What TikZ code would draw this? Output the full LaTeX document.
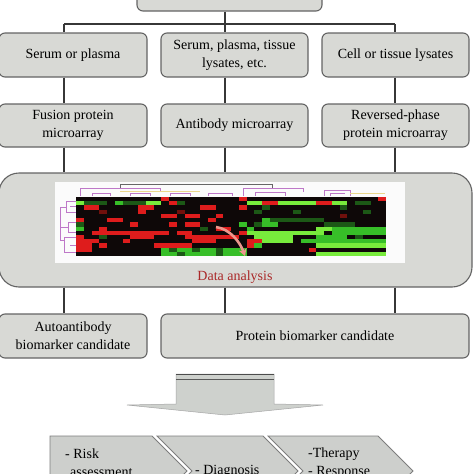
\documentclass[tikz,border=0pt]{standalone}
\usepackage{fontspec}
\setmainfont{Liberation Serif}
\usetikzlibrary{arrows.meta}
\definecolor{boxfill}{RGB}{216,217,213}
\definecolor{boxdraw}{RGB}{100,100,100}
\definecolor{linec}{RGB}{55,55,55}
\definecolor{chevfill}{RGB}{205,207,204}
\definecolor{chevdraw}{RGB}{125,125,125}
\definecolor{arrfill}{RGB}{206,209,205}
\definecolor{dared}{RGB}{170,40,40}
\definecolor{hmK}{RGB}{14,8,8}
\definecolor{hmR}{RGB}{222,28,28}
\definecolor{hmr}{RGB}{112,16,12}
\definecolor{hmG}{RGB}{55,190,40}
\definecolor{hmg}{RGB}{28,88,22}
\definecolor{hmL}{RGB}{120,235,60}
\definecolor{dpurple}{RGB}{190,120,200}
\definecolor{dyellow}{RGB}{235,215,140}
\newcount\hmcol
\newcount\hmrowc
\newcommand\hmcell{\fill[fill=hm\hmc] ({76+7.75*\the\hmcol},{197+4.214*\the\hmrowc}) rectangle ++(7.9,4.35);\global\advance\hmcol by 1\relax}
\makeatletter
\newcommand\hmrow[1]{\global\hmcol=0\relax\@tfor\hmc:=#1\do{\hmcell}\global\advance\hmrowc by 1\relax}
\makeatother
\tikzset{
  box/.style={draw=boxdraw, fill=boxfill, line width=1.1pt, rounded corners=6pt,
    align=center, inner sep=2pt, font=\fontsize{14}{18}\selectfont},
  conn/.style={draw=linec, line width=1.2pt},
  chev/.style={draw=chevdraw, fill=chevfill, line width=0.8pt},
  chevtext/.style={anchor=west, align=left, inner sep=0pt, font=\fontsize{14}{18}\selectfont},
  dgp/.style={draw=dpurple, line width=0.6pt},
  dgy/.style={draw=dyellow, line width=0.6pt},
  dgk/.style={draw=gray!80!black, line width=0.8pt}
}
\begin{document}
\begin{tikzpicture}[x=1pt, y=-1pt]
\useasboundingbox (0,0) rectangle (474,474);
\fill[white] (0,0) rectangle (474,474);
\clip (0,0) rectangle (474,474);

% junction coordinates
\coordinate (h1) at (64,24);
\coordinate (h2) at (225,24);
\coordinate (h3) at (395,24);

% boxes
\node[box, minimum width=185pt, minimum height=46pt] (top) at (229.5,-12) {};
\node[box, minimum width=148pt, minimum height=44pt] (s1) at (73,55) {Serum or plasma};
\node[box, minimum width=147pt, minimum height=44pt] (s2) at (234.5,55) {Serum, plasma, tissue\\lysates, etc.};
\node[box, minimum width=147pt, minimum height=44pt] (s3) at (395.5,55) {Cell or tissue lysates};
\node[box, minimum width=148pt, minimum height=43pt] (m1) at (73,125.5) {Fusion protein\\microarray};
\node[box, minimum width=147pt, minimum height=43pt] (m2) at (234.5,125.5) {Antibody microarray};
\node[box, minimum width=147pt, minimum height=43pt] (m3) at (395.5,125.5) {Reversed-phase\\protein microarray};
\node[box, rounded corners=20pt, minimum width=473pt, minimum height=114pt] (data) at (235.5,230) {};
\node[box, minimum width=148pt, minimum height=44pt] (a1) at (73,336) {Autoantibody\\biomarker candidate};
\node[box, minimum width=308pt, minimum height=44pt] (p1) at (315,336) {Protein biomarker candidate};

% connectors
\draw[conn] (h2 |- top.south) -- (h2);
\draw[conn] (h1) -- (h3);
\draw[conn] (h1) -- (h1 |- s1.north);
\draw[conn] (h2) -- (h2 |- s2.north);
\draw[conn] (h3) -- (h3 |- s3.north);
\draw[conn] (h1 |- s1.south) -- (h1 |- m1.north);
\draw[conn] (h2 |- s2.south) -- (h2 |- m2.north);
\draw[conn] (h3 |- s3.south) -- (h3 |- m3.north);
\draw[conn] (h1 |- m1.south) -- (h1 |- data.north);
\draw[conn] (h2 |- m2.south) -- (h2 |- data.north);
\draw[conn] (h3 |- m3.south) -- (h3 |- data.north);
\draw[conn] (h1 |- data.south) -- (h1 |- a1.north);
\draw[conn] (h2 |- data.south) -- (h2 |- p1.north);
\draw[conn] (h3 |- data.south) -- (h3 |- p1.north);

% heatmap image
\fill[white!97!gray] (55,182) rectangle (405,263);
% top dendrogram
\draw[dgk] (120,189) -- (120,184) -- (272,184) -- (272,189);
\draw[dgp] (80,196) -- (80,188) -- (160,188) -- (160,191);
\draw[dgy] (120,191) -- (200,191);
\draw[dgp] (92,196) -- (92,193) -- (110,193) -- (110,196);
\draw[dgp] (130,196) -- (130,193) -- (150,193) -- (150,196);
\draw[dgp] (170,196) -- (170,193) -- (190,193) -- (190,196);
\draw[dgp] (208,196) -- (208,193) -- (232,193) -- (232,196);
\draw[dgp] (243,196) -- (243,188) -- (303,188) -- (303,192);
\draw[dgp] (255,196) -- (255,192) -- (285,192) -- (285,196);
\draw[dgp] (324,196) -- (324,190) -- (350,190) -- (350,196);
\draw[dgp] (330,196) -- (330,193) -- (345,193);
\draw[dgy] (350,193) -- (385,193);
% left dendrogram
\draw[dgp] (76,201) -- (66,201) -- (66,212) -- (76,212);
\draw[dgp] (76,206) -- (70,206);
\draw[dgp] (66,207) -- (60,207) -- (60,240) -- (64,240);
\draw[dgp] (76,222) -- (68,222) -- (68,232) -- (76,232);
\draw[dgp] (68,227) -- (60,227);
\draw[dgp] (76,237) -- (64,237) -- (64,252) -- (76,252);
\draw[dgp] (76,245) -- (70,245);
% cells
\hmrow{KKKKKKKKKKKRKKKKKKKKKRKKKKKKKKKKKKKKKKKR}
\hmrow{LgggKGgggLLKRgKKKKKKKKLLRRLLLLLRRLLKggKK}
\hmrow{KRRKKKKKRRKKKKKKRRKKKRKKgKKKKKKKKKgKKKKK}
\hmrow{KKKrKKKKRKKKKrKKKKKKKKKgKKKKgKKKKKKKKgKK}
\hmrow{KKKKKKKKKKKRRKRRKKRKKKKKKKKKKKKKKKrKKKKK}
\hmrow{RKKKRRKKKKKKKKKKKRKKKKKKGgggggggKKKKKKKK}
\hmrow{gKKKKKKRKKKKRKRRKKKKKGKgGGKKKKKKggggKKKK}
\hmrow{GKKRKKKKKKKKKKKKgKRRKKGKKKKKKKKLLGGGGGGG}
\hmrow{KKRRRRRRRRRRKRRKKKKKKRLLLLLLLLLLKGGGGGGG}
\hmrow{RKKgKKKRRRKKKKRRRRRRRKKLLLLLKKKGGGGKgKKK}
\hmrow{RRRKKKRKKKKKKKKRRRKKKKRRLLLLKGGGGGGGGGGG}
\hmrow{RRKRKKKKKKRRRRRKKKKKKKRGKKKKKKKLLLLLLLLL}
\hmrow{RRKKKKKKKKKGgGGgGGgGGGKKKKKKKKRKKKKKKKKK}
\hmrow{KKKKKKKKKKKGGgGGGGgGGGKKKKKKKKKLLLLLLLLL}
% curved arrow
\draw[draw={rgb,255:red,235;green,150;blue,140}, line width=2.6pt, -{Stealth[length=7pt,width=8pt]}]
  (216,227) .. controls (230,229) and (240,242) .. (245,256);
\node[text=dared, font=\fontsize{14}{18}\selectfont] (dl) at (235,277) {Data analysis};

% big arrow
\fill[arrfill, draw=gray!70, line width=0.5pt] (176,374) -- (274,374) -- (274,404) -- (323,405) -- (225,415) -- (127,405) -- (176,404) -- cycle;
\draw[gray!60!black, line width=1pt] (176,374.5) -- (274,374.5);
\draw[gray!70!black, line width=0.9pt] (176,379.5) -- (274,379.5);

% chevrons
\draw[chev] (50,436) -- (152,436) -- (187,471) -- (152,506) -- (50,506) -- cycle;
\draw[chev] (157,436) -- (263,436) -- (298,471) -- (263,506) -- (157,506) -- (192,471) -- cycle;
\draw[chev] (268,436) -- (378,436) -- (413,471) -- (378,506) -- (268,506) -- (303,471) -- cycle;
\node[chevtext] (c1) at (65,463) {- Risk\\\hspace{5pt}assessment};
\node[chevtext] (c2) at (195,471) {- Diagnosis};
\node[chevtext] (c3) at (308,463) {-Therapy\\- Response};
\end{tikzpicture}
\end{document}
